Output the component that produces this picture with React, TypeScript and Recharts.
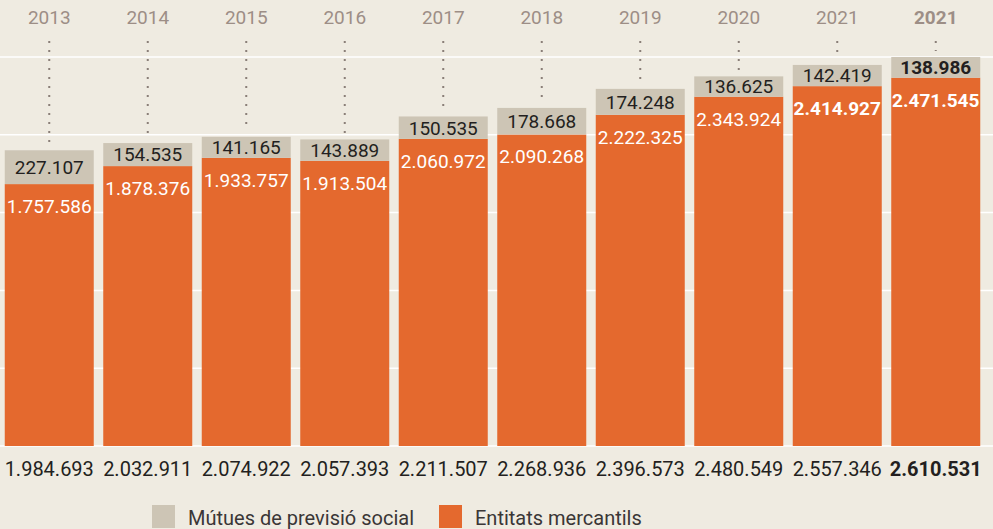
import React from 'react';
import { BarChart, Bar, XAxis, YAxis, CartesianGrid, Legend } from 'recharts';

const years = ['2013', '2014', '2015', '2016', '2017', '2018', '2019', '2020', '2021', '2021'];
const mercantils = [1757586, 1878376, 1933757, 1913504, 2060972, 2090268, 2222325, 2343924, 2414927, 2471545];
const mutues = [227107, 154535, 141165, 143889, 150535, 178668, 174248, 136625, 142419, 138986];
const totals = [1984693, 2032911, 2074922, 2057393, 2211507, 2268936, 2396573, 2480549, 2557346, 2610531];
const yTicks = [0, 522106, 1044212, 1566319, 2088425, 2610531];

const ORANGE = '#e4692e';
const GRAY = '#cdc5b5';
const BG = '#efebe1';
const DARK = '#231f20';
const YEAR = '#9d8e86';
const FONT = 'Roboto, "Noto Sans", sans-serif';

const data = years.map((year, i) => ({
  year,
  mercantils: mercantils[i],
  mutues: mutues[i],
  total: totals[i],
}));

const fmt = (v: number) => String(v).replace(/\B(?=(\d{3})+(?!\d))/g, '.');

// orange segment + white value just under its top edge
const OrangeShape = (p: any) => {
  const { x, y, width, height, index, payload } = p;
  return (
    <g>
      <rect x={x} y={y} width={width} height={height} fill={ORANGE} />
      <text
        x={x + width / 2}
        y={y + 22}
        dy="0.36em"
        textAnchor="middle"
        fill="#fff"
        fontFamily={FONT}
        fontSize={19}
        fontWeight={index >= 8 ? 700 : 400}
      >
        {fmt(payload.mercantils)}
      </text>
    </g>
  );
};

// grey segment, its value, the dotted leader and the year on top
const GrayShape = (p: any) => {
  const { x, y, width, height, index, payload } = p;
  const cx = x + width / 2;
  const last = index === years.length - 1;
  return (
    <g>
      <line x1={cx} x2={cx} y1={41} y2={y - 6} stroke="#8a7f78" strokeWidth={2} strokeDasharray="2 7" />
      <text x={cx} y={24} textAnchor="middle" fill={YEAR} fontFamily={FONT} fontSize={19} fontWeight={last ? 700 : 400}>
        {payload.year}
      </text>
      <rect x={x} y={y} width={width} height={height} fill={GRAY} />
      <text
        x={cx}
        y={y + height / 2}
        dy="0.36em"
        textAnchor="middle"
        fill={DARK}
        fontFamily={FONT}
        fontSize={19}
        fontWeight={last ? 700 : 400}
      >
        {fmt(payload.mutues)}
      </text>
    </g>
  );
};

const TotalTick = (p: any) => {
  const { x, y, index } = p;
  return (
    <text x={x} y={y} dy={22} textAnchor="middle" fill={DARK} fontFamily={FONT} fontSize={20} fontWeight={index === totals.length - 1 ? 700 : 400}>
      {fmt(totals[index])}
    </text>
  );
};

const LegendBox = (props: any) => {
  const items = [...(props.payload || [])].reverse();
  return (
    <div style={{ display: 'flex', alignItems: 'flex-start', fontFamily: FONT, fontSize: 20, color: '#3a3636' }}>
      {items.map((it: any, i: number) => (
        <div key={i} style={{ display: 'flex', alignItems: 'flex-start', marginRight: 25 }}>
          <span style={{ display: 'inline-block', width: 23, height: 23, background: it.color, marginRight: 13 }} />
          <span style={{ lineHeight: '26px' }}>{it.value}</span>
        </div>
      ))}
    </div>
  );
};

export default function App() {
  return (
    <div style={{ position: 'absolute', left: 0, top: 0, width: 993, height: 529, background: BG, overflow: 'hidden' }}>
      <BarChart
        width={993}
        height={529}
        data={data}
        margin={{ top: 57, right: 0, left: 0, bottom: 53 }}
        barCategoryGap={4.75}
      >
        <CartesianGrid vertical={false} stroke="#ffffff" strokeWidth={1.5} />
        <XAxis
          dataKey="year"
          axisLine={false}
          tickLine={false}
          height={30}
          padding={{ left: 0, right: 8 }}
          interval={0}
          tick={<TotalTick />}
        />
        <YAxis hide domain={[0, yTicks[yTicks.length - 1]]} ticks={yTicks} />
        <Legend
          layout="horizontal"
          verticalAlign="middle"
          align="center"
          wrapperStyle={{ top: 505, left: 152, width: 'auto' }}
          content={<LegendBox />}
        />
        <Bar dataKey="mercantils" name="Entitats mercantils" stackId="a" fill={ORANGE} shape={<OrangeShape />} isAnimationActive={false} />
        <Bar dataKey="mutues" name="Mútues de previsió social" stackId="a" fill={GRAY} shape={<GrayShape />} isAnimationActive={false} />
      </BarChart>
    </div>
  );
}
